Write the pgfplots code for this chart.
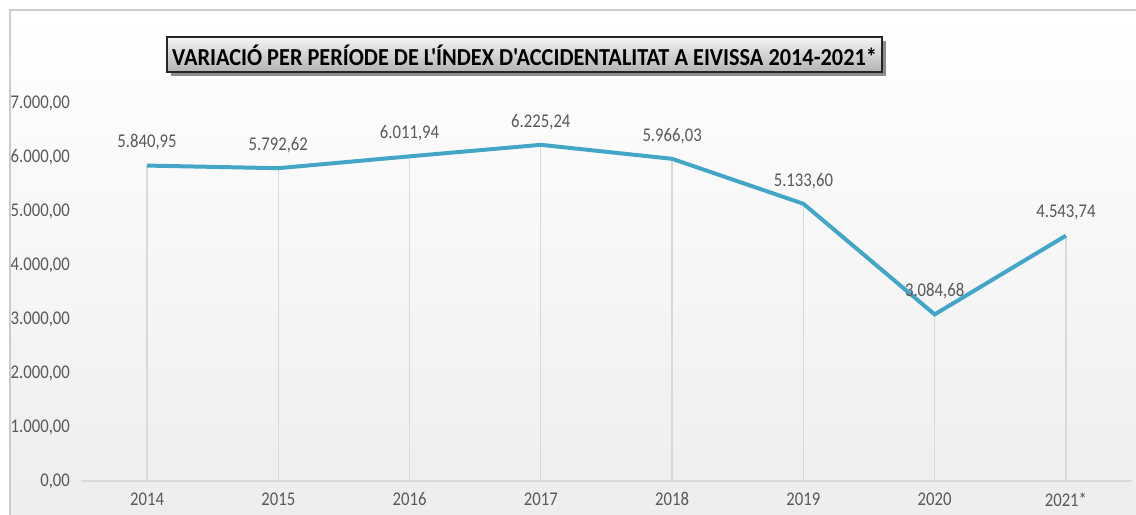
\documentclass[border=0pt]{standalone}
\usepackage{fontspec}
\setmainfont{Carlito}[FakeStretch=0.86]
\newfontfamily\titlefont{Carlito}
\usepackage{pgfplots}
\pgfplotsset{compat=1.18}
\definecolor{linec}{HTML}{43A6C6}
\definecolor{txt}{HTML}{595959}
\definecolor{dropc}{HTML}{D9D9D9}
\pgfplotstableread{
x y
0 5840.95
1 5792.62
2 6011.94
3 6225.24
4 5966.03
5 5133.60
6 3084.68
7 4543.74
}\datatab
\newsavebox\titlebox
\begin{document}
\sbox\titlebox{\titlefont\bfseries\fontsize{24.5}{28}\selectfont VARIACIÓ PER PERÍODE DE L'ÍNDEX D'ACCIDENTALITAT A EIVISSA 2014-2021*}%
\pgfmathsetmacro\tsx{707.6/\the\wd\titlebox}%
\begin{tikzpicture}
\begin{scope}[shift={(-81.4bp,-34bp)}, x=1bp, y=1bp]
\useasboundingbox (0,0) rectangle (1136,515);
\shade[top color=white, bottom color=black!7] (10,-5) rectangle (1145,505);
\draw[black!20, line width=1.2] (10,-5) -- (10,505) -- (1145,505);
\end{scope}
\begin{axis}[
  anchor=south west,
  scale only axis, width=1050.2bp, height=378bp,
  xmin=-0.5, xmax=7.5, ymin=0, ymax=7000,
  axis lines*=left,
  x axis line style={draw=dropc, line width=1.3},
  y axis line style={draw=none},
  major tick length=0,
  xtick={0,...,7},
  xticklabels={2014,2015,2016,2017,2018,2019,2020,2021*},
  ytick={0,1000,...,7000},
  scaled y ticks=false,
  yticklabel style={/pgf/number format/fixed, /pgf/number format/fixed zerofill, /pgf/number format/precision=2, /pgf/number format/use comma, /pgf/number format/1000 sep={.}, /pgf/number format/assume math mode=true, xshift=-8bp},
  tick label style={font=\fontsize{19.5}{22}\selectfont, text=txt},
  xticklabel style={yshift=-8bp},
  clip=false,
]
\addplot[ycomb, dropc, line width=1.3, no marks] table[x=x,y=y] {\datatab};
\addplot[linec, line width=4, no marks,
  nodes near coords={\pgfmathprintnumber[fixed,fixed zerofill,precision=2,use comma,1000 sep={.},assume math mode=true]{\pgfplotspointmeta}},
  every node near coord/.append style={anchor=center, yshift=23bp, font=\fontsize{19.5}{22}\selectfont, text=txt}
] table[x=x,y=y] {\datatab};
\end{axis}
\begin{scope}[shift={(-81.4bp,-34bp)}, x=1bp, y=1bp]
\fill[black!45] (171,439) rectangle (886,474);
\shade[top color=black!4, bottom color=black!30, draw=black!85, line width=1.5] (167,443) rectangle (882,478);
\node[text=black, inner sep=0] at (524.5,460) {\scalebox{\tsx}[1]{\usebox\titlebox}};
\end{scope}
\end{tikzpicture}
\end{document}
